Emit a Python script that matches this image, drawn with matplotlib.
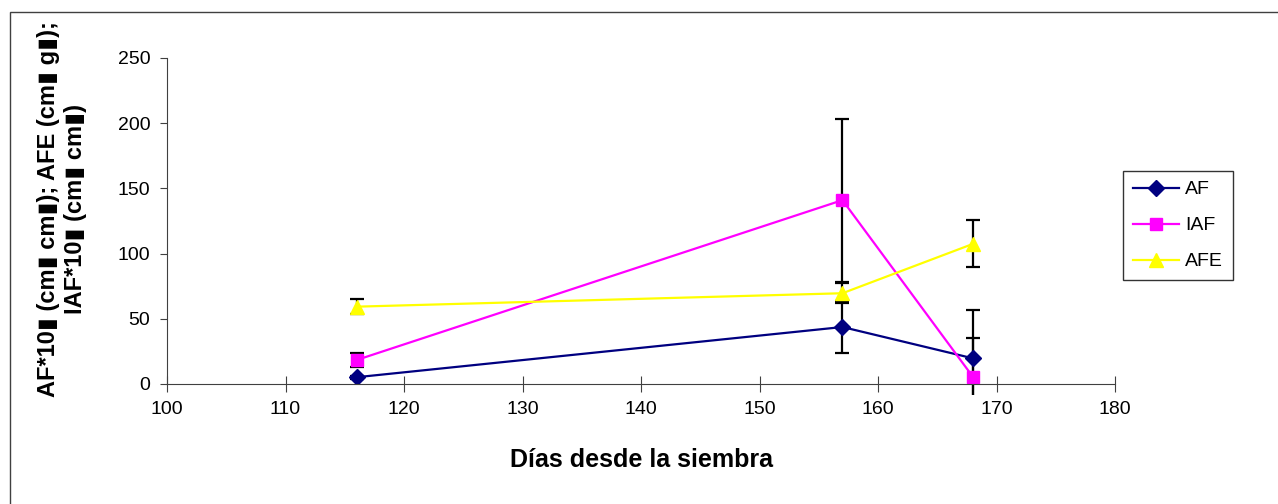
import numpy as np
import matplotlib.pyplot as plt
from matplotlib.patches import Rectangle
from matplotlib.lines import Line2D
from matplotlib.transforms import Bbox, TransformedBbox

plt.rcParams['font.family'] = ['Liberation Sans', 'DejaVu Sans']

# Days since sowing
dias = [116, 157, 168]

# Series values and their error bars
af = [5.2, 43.7, 19.7]
af_err = [1.0, 20.0, 37.0]
iaf = [18.4, 141.0, 5.6]
iaf_err = [5.5, 62.5, 29.5]
afe = [59.3, 69.6, 107.4]
afe_err = [6.0, 7.8, 18.0]

fig = plt.figure(figsize=(12.78, 5.04), dpi=100)
ax = fig.add_axes([167 / 1278, 1 - 384 / 504, 948 / 1278, 326 / 504])

# chart area frame (right and bottom edges fall outside the picture)
fig.patches.append(Rectangle((10 / 1278, -0.05), 1.2, 1 - 12 / 504 + 0.05,
                             transform=fig.transFigure, fill=False,
                             edgecolor='#404040', linewidth=1.0))

# error bars may run a little below the x axis, as in the original
clip = TransformedBbox(Bbox([[0, -0.035], [1, 1]]), ax.transAxes)

series = [
    ('AF', af, af_err, '#000080', 'D', 8.5),
    ('IAF', iaf, iaf_err, '#FF00FF', 's', 9),
    ('AFE', afe, afe_err, '#FFFF00', '^', 10),
]
handles = []
for name, vals, err, col, mk, ms in series:
    cont = ax.errorbar(dias, vals, yerr=err, color=col, marker=mk, markersize=ms,
                       linewidth=1.6, ecolor='black', elinewidth=1.6, capsize=5,
                       capthick=1.6, zorder=2)
    for art in list(cont[1]) + list(cont[2]):
        art.set_clip_box(clip)
        art.set_zorder(1.5)
    handles.append(Line2D([], [], color=col, marker=mk, markersize=ms,
                          linewidth=1.6, label=name))

ax.set_xlim(100, 180)
ax.set_ylim(0, 250)
ax.set_xticks(np.arange(100, 181, 10))
ax.set_yticks(np.arange(0, 251, 50))
ax.spines['top'].set_visible(False)
ax.spines['right'].set_visible(False)
ax.spines['left'].set_color('#404040')
ax.spines['bottom'].set_color('#404040')
ax.tick_params(axis='x', direction='inout', length=12, labelsize=14, colors='#404040',
               labelcolor='black', pad=6)
ax.tick_params(axis='y', direction='out', length=5, labelsize=14, colors='#404040',
               labelcolor='black', pad=7)

ax.set_xlabel('Días desde la siembra', fontsize=18, fontweight='bold')
ax.xaxis.set_label_coords(0.5, (384 - 460) / 326)
ax.xaxis.label.set_va('center')

ax.set_ylabel('AF*10▮ (cm▮ cm▮); AFE (cm▮ g▮);\nIAF*10▮ (cm▮ cm▮)',
              fontsize=17, fontweight='bold', linespacing=1.25)
ax.yaxis.set_label_coords((62 - 167) / 948, (384 - 209) / 326)
ax.yaxis.label.set_va('center')

leg = fig.legend(handles=handles, loc='upper left',
                 bbox_to_anchor=(1123 / 1278, 1 - 171 / 504), borderaxespad=0,
                 fontsize=14, frameon=True, fancybox=False, edgecolor='black',
                 handlelength=2.4, handletextpad=0.3, borderpad=0.5,
                 labelspacing=0.95)
leg.get_frame().set_linewidth(1.0)

fig.savefig('out.png', dpi=100)
